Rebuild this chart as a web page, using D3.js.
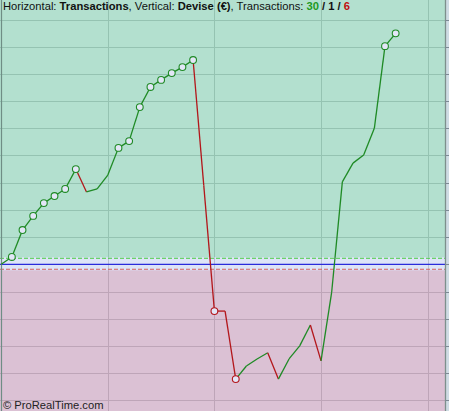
<!DOCTYPE html>
<html><head><meta charset="utf-8">
<script src="https://cdn.jsdelivr.net/npm/d3@7"></script>
<style>
html,body{margin:0;padding:0;background:#fff;overflow:hidden}
svg{display:block}
</style></head>
<body>
<svg id="c" width="449" height="411"></svg>
<script>
// Equity after each transaction (Devise €), transaction 0 = start
const trades = d3.range(0, 38);
const equity = [0, 27, 126, 178, 225, 251, 277, 350, 266, 277, 328, 428, 453, 578, 652, 678, 703, 725, 751,
  290, -172, -172, -422, -374, -348, -325, -422, -348, -300, -223, -355, -102, 303, 372, 402, 500, 802, 849];
const yTicks = d3.range(-500, 901, 100);
const xTicks = [10, 20, 30, 40];
const counts = {win: 30, neutral: 1, loss: 6};
const bandTop = 26, bandBottom = -22, dashUp = 22, dashDown = -18;

const W = 449, H = 411;
const svg = d3.select("#c");
const x = d3.scaleLinear().domain([0, 41.6]).range([1.2, 444.7]);
const y = d3.scaleLinear().domain([0, 100]).range([264.3, 237.1]);

// backgrounds
svg.append("rect").attr("x", 0).attr("y", 0).attr("width", 445).attr("height", y(0)).attr("fill", "#b3e0cf");
svg.append("rect").attr("x", 0).attr("y", y(0)).attr("width", 445).attr("height", H - y(0)).attr("fill", "#dbc1d4");
svg.append("rect").attr("x", 0).attr("y", y(bandTop)).attr("width", 445).attr("height", y(bandBottom) - y(bandTop)).attr("fill", "#dde4f7");

// grid
const g = svg.append("g");
yTicks.forEach(v => {
  if (v === 0) return;
  g.append("line").attr("x1", 0).attr("x2", 445).attr("y1", Math.round(y(v)) + 0.5).attr("y2", Math.round(y(v)) + 0.5)
    .attr("stroke", v > 0 ? "#95c3b2" : "#bea5b8").attr("stroke-width", 1);
});
xTicks.forEach(t => {
  const xx = Math.round(x(t)) + 0.5;
  g.append("line").attr("x1", xx).attr("x2", xx).attr("y1", 0).attr("y2", y(bandTop)).attr("stroke", "#95c3b2");
  g.append("line").attr("x1", xx).attr("x2", xx).attr("y1", y(bandTop)).attr("y2", y(bandBottom)).attr("stroke", "#b9bfd2");
  g.append("line").attr("x1", xx).attr("x2", xx).attr("y1", y(bandBottom)).attr("y2", H).attr("stroke", "#bea5b8");
});

// threshold lines
svg.append("line").attr("x1", 0).attr("x2", 445).attr("y1", y(dashUp)).attr("y2", y(dashUp))
  .attr("stroke", "#44cc3c").attr("stroke-width", 1.1).attr("stroke-dasharray", "4,2");
svg.append("line").attr("x1", 0).attr("x2", 445).attr("y1", y(dashDown)).attr("y2", y(dashDown))
  .attr("stroke", "#d65f5f").attr("stroke-width", 1.1).attr("stroke-dasharray", "4,2");
svg.append("line").attr("x1", 0).attr("x2", 445).attr("y1", y(0)).attr("y2", y(0))
  .attr("stroke", "#2b2bdb").attr("stroke-width", 1.3);

// right strip
svg.append("rect").attr("x", 445).attr("y", 0).attr("width", 4).attr("height", H).attr("fill", "#cfdce4");
svg.append("line").attr("x1", 445.5).attr("x2", 445.5).attr("y1", 0).attr("y2", H).attr("stroke", "#7d908c").attr("stroke-width", 1.3);
yTicks.forEach(v => {
  svg.append("line").attr("x1", 445).attr("x2", 449).attr("y1", Math.round(y(v)) + 0.5).attr("y2", Math.round(y(v)) + 0.5)
    .attr("stroke", "#7d8a94").attr("stroke-width", 1);
});
// left border
svg.append("line").attr("x1", 1.5).attr("x2", 1.5).attr("y1", 0).attr("y2", H).attr("stroke", "#6f8d85").attr("stroke-width", 1.2);

// equity segments
const segs = svg.append("g");
for (let i = 1; i < equity.length; i++) {
  const up = equity[i] > equity[i - 1];
  segs.append("line")
    .attr("x1", x(trades[i - 1])).attr("y1", y(equity[i - 1]))
    .attr("x2", x(trades[i])).attr("y2", y(equity[i]))
    .attr("stroke", up ? "#1f8a25" : "#b3161b").attr("stroke-width", 1.3);
}
// markers at new highs/lows
let hi = equity[0], lo = equity[0];
const marks = [];
for (let i = 1; i < equity.length; i++) {
  if (equity[i] > hi) { hi = equity[i]; marks.push({i, c: "#1f8a25"}); }
  if (equity[i] < lo) { lo = equity[i]; marks.push({i, c: "#b3161b"}); }
}
svg.append("g").selectAll("circle").data(marks).join("circle")
  .attr("cx", d => x(trades[d.i])).attr("cy", d => y(equity[d.i])).attr("r", 3.4)
  .attr("fill", "#e3e6f7").attr("stroke", d => d.c).attr("stroke-width", 1.1);

// header text
const t = svg.append("text").attr("x", 3).attr("y", 10).attr("font-family", "Liberation Sans, Arial, sans-serif")
  .attr("font-size", 11.2).attr("fill", "#111");
t.append("tspan").text("Horizontal: ");
t.append("tspan").attr("font-weight", "bold").text("Transactions");
t.append("tspan").text(", Vertical: ");
t.append("tspan").attr("font-weight", "bold").text("Devise (€)");
t.append("tspan").text(", Transactions: ");
t.append("tspan").attr("font-weight", "bold").attr("fill", "#1f9a1f").text(counts.win);
t.append("tspan").attr("font-weight", "bold").text(" / " + counts.neutral + " / ");
t.append("tspan").attr("font-weight", "bold").attr("fill", "#c01010").text(counts.loss);

svg.append("text").attr("x", 3).attr("y", 409).attr("font-family", "Liberation Sans, Arial, sans-serif")
  .attr("font-size", 11.2).attr("fill", "#222").text("© ProRealTime.com");
</script>
</body></html>
